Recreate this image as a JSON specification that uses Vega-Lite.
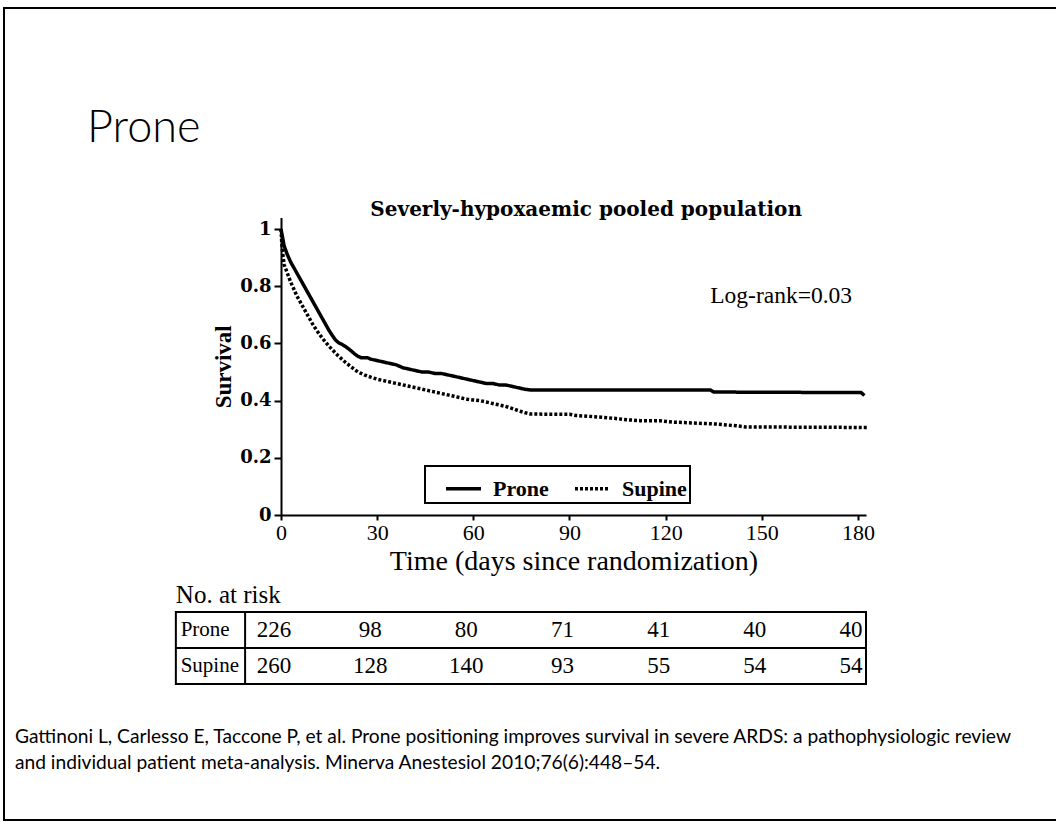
{
  "$schema": "https://vega.github.io/schema/vega-lite/v6.json",
  "width": 1054,
  "height": 812,
  "autosize": {"type": "none"},
  "padding": {"left": 4, "top": 8, "right": -2, "bottom": 2},
  "background": "white",
  "config": {
    "view": {"stroke": "black", "strokeWidth": 2},
    "axis": {"grid": false}
  },
  "title": {
    "text": "Prone",
    "anchor": "start",
    "frame": "group",
    "font": "Lato",
    "fontSize": 45,
    "fontWeight": 300,
    "color": "black",
    "baseline": "alphabetic",
    "offset": 0,
    "dx": 83,
    "dy": 179
  },
  "datasets": {
    "km": [
      {"group": "Prone", "day": 0, "surv": 1.0},
      {"group": "Prone", "day": 0.5, "surv": 0.97},
      {"group": "Prone", "day": 1, "surv": 0.94},
      {"group": "Prone", "day": 2, "surv": 0.91},
      {"group": "Prone", "day": 3, "surv": 0.885},
      {"group": "Prone", "day": 4, "surv": 0.865},
      {"group": "Prone", "day": 5, "surv": 0.845},
      {"group": "Prone", "day": 6, "surv": 0.825},
      {"group": "Prone", "day": 7, "surv": 0.805},
      {"group": "Prone", "day": 8, "surv": 0.785},
      {"group": "Prone", "day": 9, "surv": 0.765},
      {"group": "Prone", "day": 10, "surv": 0.745},
      {"group": "Prone", "day": 11, "surv": 0.725},
      {"group": "Prone", "day": 12, "surv": 0.705},
      {"group": "Prone", "day": 13, "surv": 0.685},
      {"group": "Prone", "day": 14, "surv": 0.665},
      {"group": "Prone", "day": 15, "surv": 0.645},
      {"group": "Prone", "day": 16, "surv": 0.628},
      {"group": "Prone", "day": 17, "surv": 0.612},
      {"group": "Prone", "day": 18, "surv": 0.602},
      {"group": "Prone", "day": 19, "surv": 0.597},
      {"group": "Prone", "day": 20, "surv": 0.59},
      {"group": "Prone", "day": 21, "surv": 0.582},
      {"group": "Prone", "day": 22, "surv": 0.573},
      {"group": "Prone", "day": 23, "surv": 0.563},
      {"group": "Prone", "day": 24, "surv": 0.555},
      {"group": "Prone", "day": 25, "surv": 0.55},
      {"group": "Prone", "day": 27, "surv": 0.55},
      {"group": "Prone", "day": 28, "surv": 0.545},
      {"group": "Prone", "day": 30, "surv": 0.54},
      {"group": "Prone", "day": 32, "surv": 0.535},
      {"group": "Prone", "day": 34, "surv": 0.53},
      {"group": "Prone", "day": 36, "surv": 0.525},
      {"group": "Prone", "day": 38, "surv": 0.515},
      {"group": "Prone", "day": 40, "surv": 0.51},
      {"group": "Prone", "day": 42, "surv": 0.505},
      {"group": "Prone", "day": 44, "surv": 0.5},
      {"group": "Prone", "day": 46, "surv": 0.5},
      {"group": "Prone", "day": 48, "surv": 0.495},
      {"group": "Prone", "day": 50, "surv": 0.495},
      {"group": "Prone", "day": 52, "surv": 0.49},
      {"group": "Prone", "day": 54, "surv": 0.485},
      {"group": "Prone", "day": 56, "surv": 0.48},
      {"group": "Prone", "day": 58, "surv": 0.475},
      {"group": "Prone", "day": 60, "surv": 0.47},
      {"group": "Prone", "day": 62, "surv": 0.465},
      {"group": "Prone", "day": 64, "surv": 0.46},
      {"group": "Prone", "day": 66, "surv": 0.46},
      {"group": "Prone", "day": 68, "surv": 0.455},
      {"group": "Prone", "day": 70, "surv": 0.455},
      {"group": "Prone", "day": 72, "surv": 0.45},
      {"group": "Prone", "day": 74, "surv": 0.445},
      {"group": "Prone", "day": 76, "surv": 0.44},
      {"group": "Prone", "day": 78, "surv": 0.437},
      {"group": "Prone", "day": 134, "surv": 0.437},
      {"group": "Prone", "day": 135, "surv": 0.43},
      {"group": "Prone", "day": 181, "surv": 0.428},
      {"group": "Prone", "day": 182, "surv": 0.418},
      {"group": "Supine", "day": 0, "surv": 1.0},
      {"group": "Supine", "day": 0.3, "surv": 0.94},
      {"group": "Supine", "day": 0.7, "surv": 0.9},
      {"group": "Supine", "day": 1, "surv": 0.875},
      {"group": "Supine", "day": 2, "surv": 0.845},
      {"group": "Supine", "day": 3, "surv": 0.815},
      {"group": "Supine", "day": 4, "surv": 0.79},
      {"group": "Supine", "day": 5, "surv": 0.765},
      {"group": "Supine", "day": 6, "surv": 0.745},
      {"group": "Supine", "day": 7, "surv": 0.725},
      {"group": "Supine", "day": 8, "surv": 0.705},
      {"group": "Supine", "day": 9, "surv": 0.685},
      {"group": "Supine", "day": 10, "surv": 0.665},
      {"group": "Supine", "day": 11, "surv": 0.648},
      {"group": "Supine", "day": 12, "surv": 0.632},
      {"group": "Supine", "day": 13, "surv": 0.617},
      {"group": "Supine", "day": 14, "surv": 0.603},
      {"group": "Supine", "day": 15, "surv": 0.59},
      {"group": "Supine", "day": 16, "surv": 0.578},
      {"group": "Supine", "day": 17, "surv": 0.566},
      {"group": "Supine", "day": 18, "surv": 0.555},
      {"group": "Supine", "day": 19, "surv": 0.545},
      {"group": "Supine", "day": 20, "surv": 0.535},
      {"group": "Supine", "day": 21, "surv": 0.526},
      {"group": "Supine", "day": 22, "surv": 0.517},
      {"group": "Supine", "day": 23, "surv": 0.508},
      {"group": "Supine", "day": 24, "surv": 0.5},
      {"group": "Supine", "day": 26, "surv": 0.49},
      {"group": "Supine", "day": 28, "surv": 0.482},
      {"group": "Supine", "day": 30, "surv": 0.475},
      {"group": "Supine", "day": 32, "surv": 0.47},
      {"group": "Supine", "day": 34, "surv": 0.465},
      {"group": "Supine", "day": 36, "surv": 0.46},
      {"group": "Supine", "day": 38, "surv": 0.455},
      {"group": "Supine", "day": 40, "surv": 0.45},
      {"group": "Supine", "day": 42, "surv": 0.445},
      {"group": "Supine", "day": 44, "surv": 0.44},
      {"group": "Supine", "day": 46, "surv": 0.435},
      {"group": "Supine", "day": 48, "surv": 0.43},
      {"group": "Supine", "day": 50, "surv": 0.425},
      {"group": "Supine", "day": 52, "surv": 0.42},
      {"group": "Supine", "day": 54, "surv": 0.415},
      {"group": "Supine", "day": 56, "surv": 0.41},
      {"group": "Supine", "day": 58, "surv": 0.405},
      {"group": "Supine", "day": 60, "surv": 0.402},
      {"group": "Supine", "day": 62, "surv": 0.4},
      {"group": "Supine", "day": 64, "surv": 0.395},
      {"group": "Supine", "day": 66, "surv": 0.39},
      {"group": "Supine", "day": 68, "surv": 0.385},
      {"group": "Supine", "day": 70, "surv": 0.38},
      {"group": "Supine", "day": 72, "surv": 0.373},
      {"group": "Supine", "day": 74, "surv": 0.365},
      {"group": "Supine", "day": 76, "surv": 0.358},
      {"group": "Supine", "day": 78, "surv": 0.353},
      {"group": "Supine", "day": 90, "surv": 0.352},
      {"group": "Supine", "day": 92, "surv": 0.348},
      {"group": "Supine", "day": 96, "surv": 0.345},
      {"group": "Supine", "day": 100, "surv": 0.342},
      {"group": "Supine", "day": 104, "surv": 0.338},
      {"group": "Supine", "day": 108, "surv": 0.333},
      {"group": "Supine", "day": 112, "surv": 0.33},
      {"group": "Supine", "day": 118, "surv": 0.33},
      {"group": "Supine", "day": 122, "surv": 0.325},
      {"group": "Supine", "day": 128, "surv": 0.322},
      {"group": "Supine", "day": 136, "surv": 0.318},
      {"group": "Supine", "day": 142, "surv": 0.312},
      {"group": "Supine", "day": 145, "surv": 0.308},
      {"group": "Supine", "day": 183, "surv": 0.306}
    ],
    "risk": [
      {"row": "Prone", "day": 0, "n": 226},
      {"row": "Prone", "day": 30, "n": 98},
      {"row": "Prone", "day": 60, "n": 80},
      {"row": "Prone", "day": 90, "n": 71},
      {"row": "Prone", "day": 120, "n": 41},
      {"row": "Prone", "day": 150, "n": 40},
      {"row": "Prone", "day": 180, "n": 40},
      {"row": "Supine", "day": 0, "n": 260},
      {"row": "Supine", "day": 30, "n": 128},
      {"row": "Supine", "day": 60, "n": 140},
      {"row": "Supine", "day": 90, "n": 93},
      {"row": "Supine", "day": 120, "n": 55},
      {"row": "Supine", "day": 150, "n": 54},
      {"row": "Supine", "day": 180, "n": 54}
    ]
  },
  "layer": [
    {
      "data": {"name": "km"},
      "mark": {"type": "line", "color": "black", "strokeWidth": 3.5},
      "encoding": {
        "x": {
          "field": "day",
          "type": "quantitative",
          "scale": {"domain": [0, 182.5], "range": [277, 862], "nice": false, "zero": false},
          "axis": {
            "values": [0, 30, 60, 90, 120, 150, 180],
            "offset": -305,
            "title": "Time (days since randomization)",
            "labelFont": "Liberation Serif",
            "labelFontSize": 22,
            "labelColor": "black",
            "labelFlush": false,
            "labelOverlap": false,
            "labelPadding": 2,
            "tickColor": "black",
            "tickWidth": 2,
            "tickSize": 5,
            "domainColor": "black",
            "domainWidth": 2,
            "titleFont": "Liberation Serif",
            "titleFontSize": 28,
            "titleFontWeight": "normal",
            "titleColor": "black",
            "titlePadding": 4
          }
        },
        "y": {
          "field": "surv",
          "type": "quantitative",
          "scale": {"domain": [0, 1.04], "range": [507, 209.6], "nice": false},
          "axis": {
            "values": [0, 0.2, 0.4, 0.6, 0.8, 1],
            "format": "~g",
            "offset": -277,
            "title": "Survival",
            "labelFont": "DejaVu Serif",
            "labelFontWeight": "bold",
            "labelFontSize": 18,
            "labelColor": "black",
            "labelPadding": 3,
            "tickColor": "black",
            "tickWidth": 2,
            "tickSize": 7,
            "domainColor": "black",
            "domainWidth": 2,
            "titleFont": "Liberation Serif",
            "titleFontSize": 23,
            "titleFontWeight": "bold",
            "titleColor": "black",
            "titlePadding": 4
          }
        },
        "strokeDash": {
          "field": "group",
          "type": "nominal",
          "scale": {"domain": ["Prone", "Supine"], "range": [[1, 0], [3, 2]]},
          "legend": {
            "orient": "none",
            "legendX": 421,
            "legendY": 458,
            "direction": "horizontal",
            "title": null,
            "strokeColor": "black",
            "padding": 3,
            "symbolType": "stroke",
            "symbolSize": 1225,
            "symbolOffset": 16,
            "symbolStrokeWidth": 3.5,
            "symbolStrokeColor": "black",
            "labelFont": "Liberation Serif",
            "labelFontSize": 22,
            "labelFontWeight": "bold",
            "labelColor": "black",
            "labelOffset": 10,
            "columnPadding": 8,
            "encode": {"legend": {"update": {"strokeWidth": {"value": 2}}}}
          }
        }
      }
    },
    {
      "data": {"values": [{}]},
      "mark": {"type": "text", "font": "DejaVu Serif", "fontWeight": "bold", "fontSize": 20, "align": "center", "baseline": "middle", "color": "black"},
      "encoding": {
        "x": {"datum": 95.2},
        "y": {"datum": 1.066},
        "text": {"value": "Severly-hypoxaemic pooled population"}
      }
    },
    {
      "data": {"values": [{}]},
      "mark": {"type": "text", "font": "Liberation Serif", "fontSize": 23.5, "align": "left", "baseline": "middle", "color": "black"},
      "encoding": {
        "x": {"datum": 133.9},
        "y": {"datum": 0.766},
        "text": {"value": "Log-rank=0.03"}
      }
    },
    {
      "data": {"values": [{}]},
      "mark": {"type": "text", "font": "Liberation Serif", "fontSize": 25, "align": "left", "baseline": "middle", "color": "black"},
      "encoding": {
        "x": {"datum": -32.8},
        "y": {"datum": -0.28},
        "text": {"value": "No. at risk"}
      }
    },
    {
      "data": {"values": [{}]},
      "mark": {"type": "rect", "fillOpacity": 0, "stroke": "black", "strokeWidth": 2},
      "encoding": {
        "x": {"datum": -32.8},
        "x2": {"datum": 182.5},
        "y": {"datum": -0.339},
        "y2": {"datum": -0.591}
      }
    },
    {
      "data": {"values": [{}]},
      "mark": {"type": "rule", "color": "black", "strokeWidth": 2},
      "encoding": {
        "x": {"datum": -32.8},
        "x2": {"datum": 182.5},
        "y": {"datum": -0.465}
      }
    },
    {
      "data": {"values": [{}]},
      "mark": {"type": "rule", "color": "black", "strokeWidth": 2},
      "encoding": {
        "x": {"datum": -11.2},
        "y": {"datum": -0.339},
        "y2": {"datum": -0.591}
      }
    },
    {
      "data": {"name": "risk"},
      "transform": [{"filter": "datum.row === 'Prone'"}],
      "mark": {"type": "text", "font": "Liberation Serif", "fontSize": 23, "align": "center", "baseline": "middle", "color": "black", "dx": -7},
      "encoding": {
        "x": {"field": "day", "type": "quantitative"},
        "y": {"datum": -0.402},
        "text": {"field": "n", "type": "quantitative"}
      }
    },
    {
      "data": {"name": "risk"},
      "transform": [{"filter": "datum.row === 'Supine'"}],
      "mark": {"type": "text", "font": "Liberation Serif", "fontSize": 23, "align": "center", "baseline": "middle", "color": "black", "dx": -7},
      "encoding": {
        "x": {"field": "day", "type": "quantitative"},
        "y": {"datum": -0.528},
        "text": {"field": "n", "type": "quantitative"}
      }
    },
    {
      "data": {"name": "risk"},
      "transform": [{"filter": "datum.row === 'Prone' && datum.day === 0"}],
      "mark": {"type": "text", "font": "Liberation Serif", "fontSize": 21, "align": "left", "baseline": "middle", "color": "black"},
      "encoding": {
        "x": {"datum": -31.3},
        "y": {"datum": -0.402},
        "text": {"field": "row", "type": "nominal"}
      }
    },
    {
      "data": {"name": "risk"},
      "transform": [{"filter": "datum.row === 'Supine' && datum.day === 0"}],
      "mark": {"type": "text", "font": "Liberation Serif", "fontSize": 21, "align": "left", "baseline": "middle", "color": "black"},
      "encoding": {
        "x": {"datum": -31.3},
        "y": {"datum": -0.528},
        "text": {"field": "row", "type": "nominal"}
      }
    },
    {
      "data": {"values": [{}]},
      "mark": {"type": "text", "font": "Lato", "fontSize": 19.2, "align": "left", "baseline": "alphabetic", "lineHeight": 26, "color": "black"},
      "encoding": {
        "x": {"datum": -83},
        "y": {"datum": -0.798},
        "text": {"value": ["Gattinoni L, Carlesso E, Taccone P, et al. Prone positioning improves survival in severe ARDS: a pathophysiologic review", "and individual patient meta-analysis. Minerva Anestesiol 2010;76(6):448\u201354."]}
      }
    }
  ]
}
